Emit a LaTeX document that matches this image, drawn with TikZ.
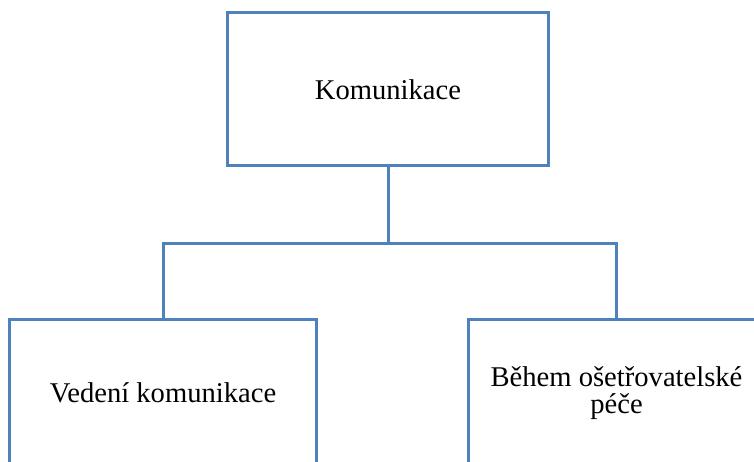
\documentclass[tikz,border=0pt]{standalone}
\usepackage{fontspec}
\setmainfont{Liberation Serif}
\begin{document}
\begin{tikzpicture}[x=1pt,y=-1pt,
  box/.style={draw=boxblue, line width=3pt, rectangle, inner sep=0pt, align=center,
    font=\fontsize{28.6}{27}\selectfont},
  link/.style={draw=boxblue, line width=3pt}]
\definecolor{boxblue}{HTML}{4F81BD}
\useasboundingbox (0,0) rectangle (754,461);
\clip (0,0) rectangle (754,461);
\node[box, minimum width=321pt, minimum height=153.3pt] (top) at (388,89.3) {Komunikace};
\node[box, minimum width=306.3pt, minimum height=148pt] (left) at (163,393) {Vedení komunikace};
\node[box, minimum width=296pt, minimum height=148pt] (right) at (616.5,393) {Během ošetřovatelské\\péče};
\coordinate (jl) at (163,243);
\coordinate (jr) at (616.5,243);
\draw[link] (top.south) -- (top.south |- jl);
\draw[link] (left.north) -- (jl) -- (jr) -- (right.north);
\end{tikzpicture}
\end{document}
